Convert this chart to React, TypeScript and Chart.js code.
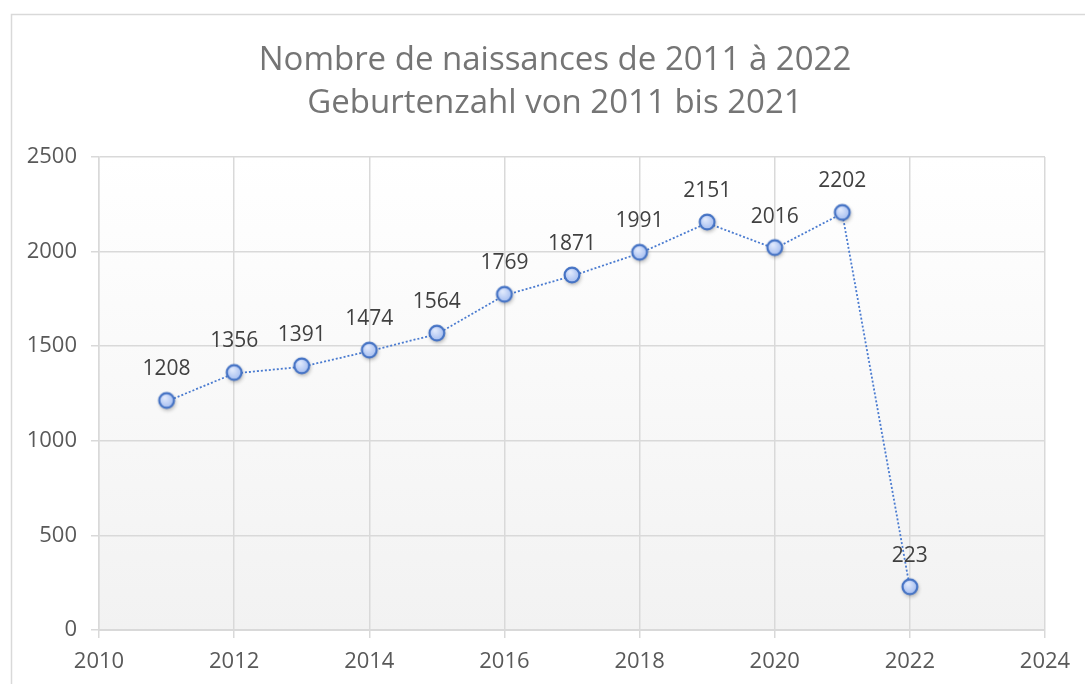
import React, { useEffect, useRef } from "react";
import { Chart, registerables } from "chart.js";

Chart.register(...registerables);

const years = [2011, 2012, 2013, 2014, 2015, 2016, 2017, 2018, 2019, 2020, 2021, 2022];
const births = [1208, 1356, 1391, 1474, 1564, 1769, 1871, 1991, 2151, 2016, 2202, 223];
const titleLines = ["Nombre de naissances de 2011 à 2022", "Geburtenzahl von 2011 bis 2021"];

const FONT = "'Open Sans', 'DejaVu Sans', sans-serif";

function makeMarker(): HTMLCanvasElement {
  const size = 28;
  const c = document.createElement("canvas");
  c.width = size;
  c.height = size;
  const ctx = c.getContext("2d")!;
  const cx = size / 2;
  const cy = size / 2 - 1;
  const r = 7.4;
  ctx.save();
  ctx.shadowColor = "rgba(0,0,0,0.35)";
  ctx.shadowBlur = 4;
  ctx.shadowOffsetX = 1;
  ctx.shadowOffsetY = 2;
  const g = ctx.createRadialGradient(cx - 2, cy - 3, 1, cx, cy, r + 1);
  g.addColorStop(0, "#dfe8fc");
  g.addColorStop(1, "#9fb9ef");
  ctx.beginPath();
  ctx.arc(cx, cy, r, 0, Math.PI * 2);
  ctx.fillStyle = g;
  ctx.fill();
  ctx.restore();
  ctx.beginPath();
  ctx.arc(cx, cy, r, 0, Math.PI * 2);
  ctx.lineWidth = 2.2;
  ctx.strokeStyle = "#4472c4";
  ctx.stroke();
  return c;
}

const bgPlugin = {
  id: "bgPlugin",
  beforeDraw(chart: any) {
    const { ctx, chartArea } = chart;
    ctx.save();
    ctx.fillStyle = "#ffffff";
    ctx.fillRect(0, 0, chart.width, chart.height);
    ctx.strokeStyle = "#d9d9d9";
    ctx.lineWidth = 1.5;
    ctx.beginPath();
    ctx.moveTo(11.5, chart.height + 5);
    ctx.lineTo(11.5, 14.5);
    ctx.lineTo(chart.width + 5, 14.5);
    ctx.stroke();
    const g = ctx.createLinearGradient(0, chartArea.top, 0, chartArea.bottom);
    g.addColorStop(0, "#ffffff");
    g.addColorStop(1, "#f2f2f2");
    ctx.fillStyle = g;
    ctx.fillRect(chartArea.left, chartArea.top, chartArea.right - chartArea.left, chartArea.bottom - chartArea.top);
    // title
    ctx.fillStyle = "#757575";
    ctx.font = `33px ${FONT}`;
    ctx.textAlign = "center";
    ctx.textBaseline = "alphabetic";
    ctx.fillText(titleLines[0], 555, 70);
    ctx.fillText(titleLines[1], 555, 113);
    ctx.restore();
  },
};

const labelPlugin = {
  id: "labelPlugin",
  afterDatasetsDraw(chart: any) {
    const { ctx } = chart;
    const meta = chart.getDatasetMeta(0);
    ctx.save();
    ctx.font = `21px ${FONT}`;
    ctx.fillStyle = "#404040";
    ctx.textAlign = "center";
    ctx.textBaseline = "middle";
    meta.data.forEach((pt: any, i: number) => {
      ctx.fillText(String(births[i]), pt.x, pt.y - 32);
    });
    ctx.restore();
  },
};

export default function App() {
  const ref = useRef<HTMLCanvasElement | null>(null);

  useEffect(() => {
    if (!ref.current) return;
    const marker = makeMarker();
    const chart = new Chart(ref.current, {
      type: "scatter",
      data: {
        datasets: [
          {
            label: "Naissances",
            data: years.map((y, i) => ({ x: y, y: births[i] })),
            showLine: true,
            borderColor: "#4a7bd0",
            borderWidth: 1.8,
            borderDash: [2, 2],
            pointStyle: marker as any,
            pointRadius: 8,
            pointHoverRadius: 8,
          },
        ],
      },
      options: {
        animation: false,
        responsive: false,
        maintainAspectRatio: false,
        layout: { padding: { left: 0, right: 40, top: 157, bottom: 0 } },
        plugins: {
          legend: { display: false },
          tooltip: { enabled: false },
          title: { display: false },
        },
        scales: {
          x: {
            type: "linear",
            min: 2010,
            max: 2024,
            afterFit: (s: any) => {
              s.height = 54;
            },
            ticks: {
              stepSize: 2,
              color: "#595959",
              font: { family: FONT, size: 22 },
              padding: 11,
              callback: (v: any) => String(v),
            },
            grid: { color: "#d9d9d9", lineWidth: 1.5, tickLength: 8, drawTicks: true },
            border: { color: "#d9d9d9", width: 2 },
          },
          y: {
            min: 0,
            max: 2500,
            afterFit: (s: any) => {
              s.width = 99;
            },
            ticks: {
              stepSize: 500,
              color: "#595959",
              font: { family: FONT, size: 22 },
              padding: 14,
              callback: (v: any) => String(v),
            },
            grid: { color: "#d9d9d9", lineWidth: 1.5, tickLength: 8 },
            border: { color: "#d9d9d9", width: 1.5 },
          },
        },
      },
      plugins: [bgPlugin, labelPlugin],
    });
    return () => chart.destroy();
  }, []);

  return (
    <div style={{ position: "absolute", left: 0, top: 0, width: 1085, height: 684 }}>
      <canvas ref={ref} width={1085} height={684} style={{ display: "block" }} />
    </div>
  );
}
